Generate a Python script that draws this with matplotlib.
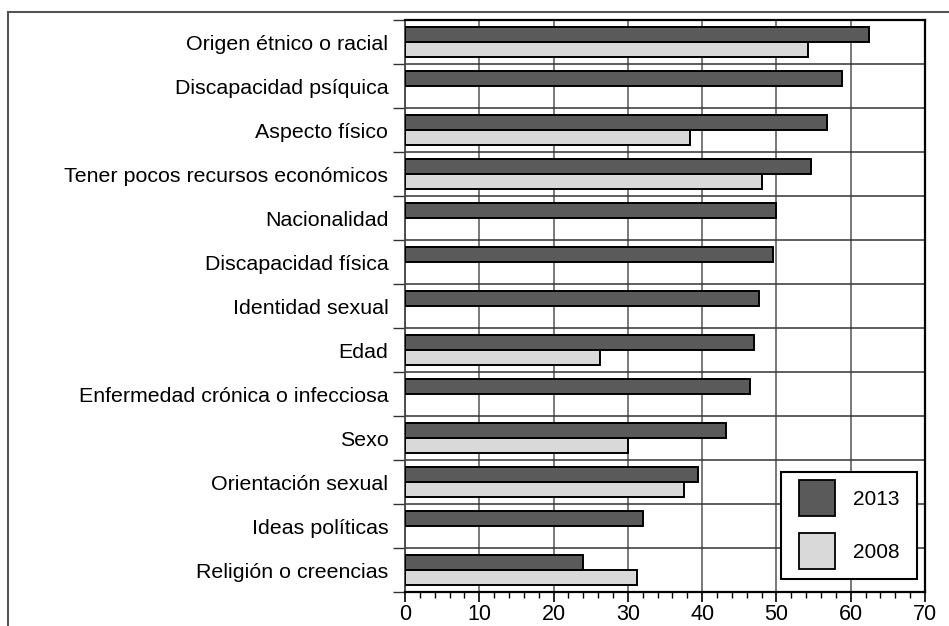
import matplotlib.pyplot as plt
from matplotlib.patches import Rectangle
from matplotlib.lines import Line2D
import numpy as np

# Categories (top to bottom) and percentages per year
categories = ['Origen étnico o racial', 'Discapacidad psíquica', 'Aspecto físico',
              'Tener pocos recursos económicos', 'Nacionalidad', 'Discapacidad física',
              'Identidad sexual', 'Edad', 'Enfermedad crónica o infecciosa', 'Sexo',
              'Orientación sexual', 'Ideas políticas', 'Religión o creencias']
values_2013 = [62.4, 58.8, 56.8, 54.7, 49.9, 49.6, 47.6, 47.0, 46.4, 43.2, 39.4, 32.0, 24.0]
values_2008 = [54.3, np.nan, 38.4, 48.1, np.nan, np.nan, np.nan, 26.2, np.nan, 30.0, 37.5, np.nan, 31.2]
x_ticks = [0, 10, 20, 30, 40, 50, 60, 70]

dark = '#5a5a5a'
light = '#d9d9d9'

plt.rcParams['font.family'] = ['Liberation Sans', 'DejaVu Sans']

fig = plt.figure(figsize=(9.49, 6.26), dpi=100)
ax = fig.add_axes([405 / 949, 1 - 592 / 626, 520 / 949, 572 / 626])

# outer frame around the whole graphic
fig.patches.append(Rectangle((8 / 949, -0.1), 1.2, 1.1 - 12 / 626, transform=fig.transFigure,
                             fill=False, edgecolor='#555555', linewidth=1.5))

y = np.arange(len(categories))
h = 0.33
ax.barh(y - 0.165, values_2013, height=h, color=dark, edgecolor='black',
        linewidth=1.4, zorder=3)
ax.barh(y + 0.165, values_2008, height=h, color=light, edgecolor='black',
        linewidth=1.4, zorder=3)

ax.set_xlim(0, 70)
ax.set_ylim(len(categories) - 0.5, -0.5)

ax.set_yticks(y)
ax.set_yticklabels(categories, fontsize=15.4)
ax.set_yticks(np.arange(len(categories) + 1) - 0.5, minor=True)
ax.tick_params(axis='y', which='major', length=0, pad=12)
ax.tick_params(axis='y', which='minor', length=8.5, width=1, color='#333333', direction='out')

ax.set_xticks(x_ticks)
ax.set_xticks(np.arange(0, 71, 2), minor=True)
ax.tick_params(axis='x', which='major', length=7, width=1.2, labelsize=15.5, pad=2)
ax.tick_params(axis='x', which='minor', length=4, width=1)

# grid: vertical at every 10, horizontal between categories
ax.grid(True, axis='x', which='major', color='#555555', linewidth=1.1)
ax.grid(True, axis='y', which='minor', color='#333333', linewidth=1.1)
ax.set_axisbelow(True)

for side in ['top', 'right', 'bottom']:
    ax.spines[side].set_linewidth(1.6)
    ax.spines[side].set_color('black')
ax.spines['left'].set_linewidth(1.3)
ax.spines['left'].set_color('#444444')

# legend with large square swatches
handles = [Line2D([], [], linestyle='none', marker='s', markersize=26.5,
                  markerfacecolor=dark, markeredgecolor='black', markeredgewidth=1.3),
           Line2D([], [], linestyle='none', marker='s', markersize=26.5,
                  markerfacecolor=light, markeredgecolor='black', markeredgewidth=1.3)]
leg = ax.legend(handles, ['2013', '2008'], loc='lower right', bbox_to_anchor=(0.985, 0.022),
                fontsize=15, handlelength=1.78, handleheight=0.7, labelspacing=1.63,
                handletextpad=0.82, borderpad=0.84, borderaxespad=0, fancybox=False,
                framealpha=1, edgecolor='black')
leg.get_frame().set_linewidth(1.5)

fig.savefig('out.png', dpi=100)
